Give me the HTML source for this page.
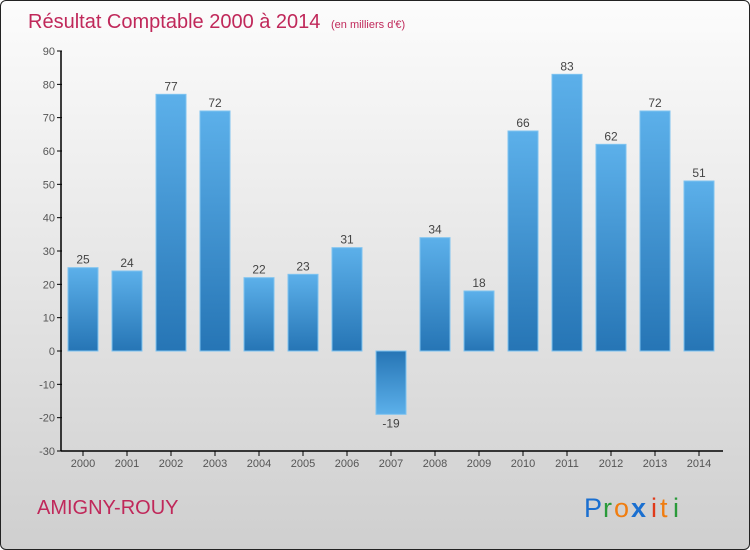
<!DOCTYPE html>
<html><head><meta charset="utf-8"><style>
body{margin:0;width:750px;height:550px;overflow:hidden}
#c{position:absolute;left:0;top:0;width:748px;height:548px;border:1px solid #222;border-radius:6px;background:linear-gradient(#fcfcfc,#cfcfcf);overflow:hidden}
</style></head><body>
<div id="c">
<svg width="750" height="550" font-family="'Liberation Sans',sans-serif">
<defs>
<linearGradient id="gp" x1="0" y1="0" x2="0" y2="1"><stop offset="0" stop-color="#5cb0ea"/><stop offset="1" stop-color="#2675b5"/></linearGradient>
<linearGradient id="gn" x1="0" y1="0" x2="0" y2="1"><stop offset="0" stop-color="#2675b5"/><stop offset="1" stop-color="#5cb0ea"/></linearGradient>
</defs>
<text x="27" y="27" font-size="20" fill="#c0285a">Résultat Comptable 2000 à 2014 <tspan font-size="11" dx="5">(en milliers d'€)</tspan></text>
<g id="yaxis"></g>
<g id="bars"></g>
<g id="xaxis"></g>
<text x="36" y="513" font-size="20" fill="#c0285a">AMIGNY-ROUY</text>
<g font-size="27">
<text x="583" y="516" fill="#1a6fd0">P</text><text x="602" y="516" fill="#2a9a3a">r</text><text x="613" y="516" fill="#f07d10">o</text><text x="630" y="516" fill="#1a6fd0" font-weight="bold">x</text><text x="650" y="516" fill="#e03a1a">i</text><text x="659" y="516" fill="#f07d10">t</text><text x="672" y="516" fill="#2a9a3a">i</text>
</g>
</svg>
</div>
<script>
const years=["2000","2001","2002","2003","2004","2005","2006","2007","2008","2009","2010","2011","2012","2013","2014"];
const values=[25,24,77,72,22,23,31,-19,34,18,66,83,62,72,51];
const yTicks=[90,80,70,60,50,40,30,20,10,0,-10,-20,-30];
const NS="http://www.w3.org/2000/svg";
const y=v=>350-v*(400/120);
const x=i=>82+i*44;
function mk(t,a,p){const e=document.createElementNS(NS,t);for(const k in a)e.setAttribute(k,a[k]);p.appendChild(e);return e;}
const ya=document.getElementById('yaxis'),ba=document.getElementById('bars'),xa=document.getElementById('xaxis');
mk('line',{x1:60,y1:y(90),x2:60,y2:y(-30),stroke:'#000','stroke-width':1.5},ya);
mk('line',{x1:60,y1:y(-30),x2:722,y2:y(-30),stroke:'#000','stroke-width':1.5},xa);
yTicks.forEach(t=>{
 mk('line',{x1:56,y1:y(t),x2:61,y2:y(t),stroke:'#000'},ya);
 const tx=mk('text',{x:54,y:y(t)+4,'font-size':11,fill:'#555','text-anchor':'end'},ya);
 tx.textContent=t<0?'-'+(-t):t;
 
 
});
years.forEach((yr,i)=>{
 const v=values[i];
 const r=mk('rect',{x:x(i)-15,y:Math.min(y(v),y(0)),width:30,height:Math.abs(y(v)-y(0)),fill:v>=0?'url(#gp)':'url(#gn)',stroke:'#7ec3f0','stroke-width':1},ba);
 
 
 const lb=mk('text',{x:x(i),y:v>=0?y(v)-4:y(v)+13,'font-size':12,fill:'#444','text-anchor':'middle'},ba);
 lb.textContent=v<0?'-'+(-v):v;
 
 
 mk('line',{x1:x(i),y1:y(-30),x2:x(i),y2:y(-30)+5,stroke:'#000'},xa);
 const xl=mk('text',{x:x(i),y:466,'font-size':11,fill:'#555','text-anchor':'middle'},xa);
 xl.textContent=yr;
 
 
});
</script>
</body></html>
